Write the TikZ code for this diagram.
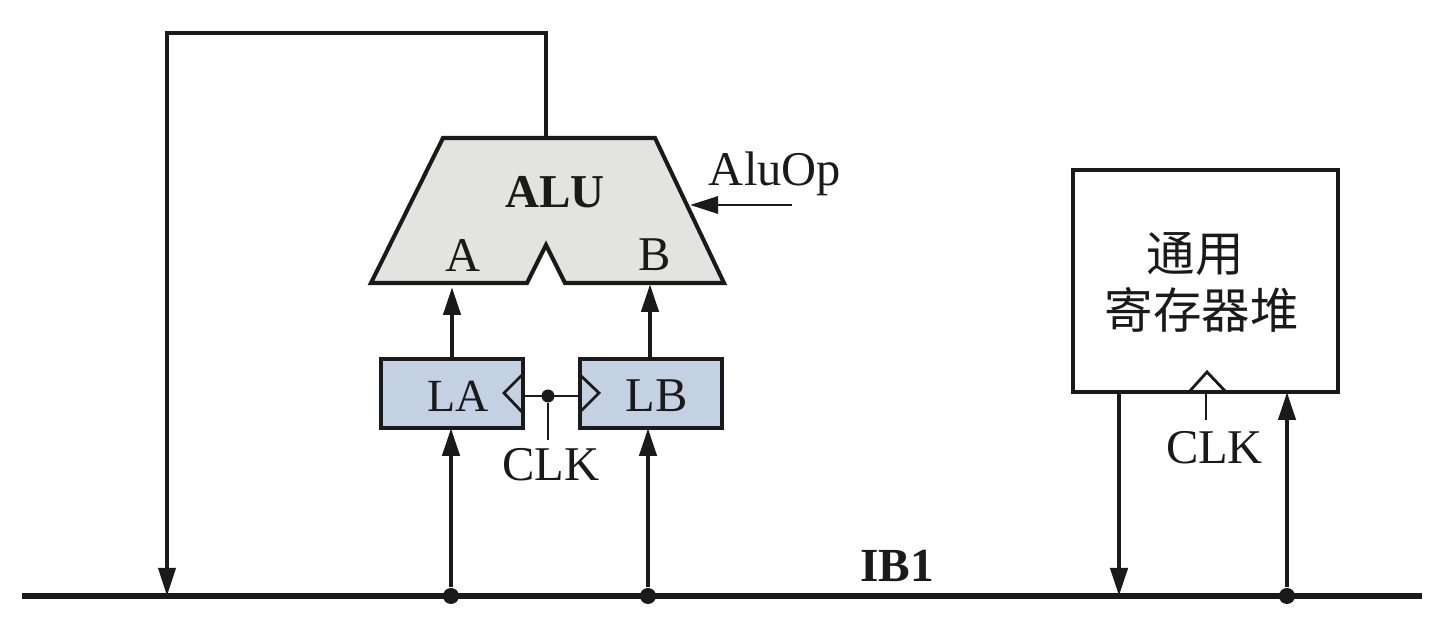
\documentclass[tikz,border=0pt]{standalone}
\usepackage{fontspec}
\setmainfont{Liberation Serif}
\newfontfamily\cjk{Noto Sans CJK SC}
\usepackage{xcolor}
\usetikzlibrary{positioning,calc,arrows.meta}
\definecolor{inkc}{HTML}{1A1A1A}
\definecolor{alugray}{HTML}{E3E3E1}
\definecolor{regblue}{HTML}{C3D1E3}
\tikzset{
    every node/.style={text=inkc, font=\fontsize{13.8}{16}\selectfont},
    wire/.style={draw=inkc, line width=1.25pt},
    thinwire/.style={draw=inkc, line width=0.85pt},
    arrowwire/.style={wire, -{Triangle[length=0.28cm,width=0.17cm]}},
    regbox/.style={draw=inkc, line width=1.15pt, fill=regblue, outer sep=0pt, minimum width=1.42cm, minimum height=0.69cm, inner sep=0pt},
    filebox/.style={draw=inkc, line width=1.15pt, fill=white, outer sep=0pt, minimum width=2.65cm, minimum height=2.22cm, inner sep=0pt},
    junction/.style={circle, fill=inkc, inner sep=0pt, minimum size=0.16cm},
    clkmark/.style={draw=inkc, line width=0.8pt, line join=miter}
}
\begin{document}
\begin{tikzpicture}
    \useasboundingbox (0,0) rectangle (14.42,6.29);
    % ALU outline
    \coordinate (aluout) at (5.46,4.91);
    \coordinate (inA) at (4.52,3.42);
    \coordinate (inB) at (6.50,3.45);
    \coordinate (opin) at (6.90,4.24);
    \coordinate (opend) at (7.92,4.24);
    \draw[draw=inkc, line width=1.15pt, fill=alugray, line join=miter]
        (4.43,4.91) -- (6.55,4.91) -- (7.24,3.46) -- (5.65,3.46) -- (5.46,3.84)
        -- (5.27,3.46) -- (3.71,3.46) -- cycle;
    \node (alulabel) at (5.55,4.37) {\fontsize{13.4}{16}\selectfont\textbf{ALU}};
    \node (alua) at (4.63,3.74) {A};
    \node (alub) at (6.55,3.74) {B};
    \node (aluop) at (7.75,4.55) {AluOp};
    % registers
    \node[regbox] (la) at (4.52,2.355) {};
    \node[regbox] (lb) at (6.51,2.355) {};
    \node (latext) at (4.58,2.33) {\fontsize{13.1}{16}\selectfont LA};
    \node (lbtext) at (6.565,2.33) {\fontsize{13.8}{16}\selectfont LB};
    \draw[clkmark] (5.23,2.55) -- (5.04,2.36) -- (5.23,2.16);
    \draw[clkmark] (5.79,2.55) -- (5.99,2.36) -- (5.79,2.16);
    % clock of LA, LB
    \node[junction, minimum size=0.13cm] (clkdot) at (5.48,2.33) {};
    \coordinate (clkend) at (5.48,1.89);
    \node (clklab) at (5.51,1.64) {CLK};
    \draw[thinwire] (la.east |- clkdot) -- (lb.west |- clkdot);
    \draw[thinwire] (clkdot) -- (clkend);
    % register file
    \node[filebox] (gpr) at (12.055,3.48) {};
    \node (gprtop) at (11.95,3.75) {\cjk 通用};
    \node (gprbot) at (12.02,3.19) {\cjk 寄存器堆};
    \draw[clkmark] (11.89,2.37) -- (12.07,2.57) -- (12.26,2.37);
    \coordinate (gprclk) at (12.06,2.37);
    \coordinate (gprend) at (12.06,2.09);
    \draw[thinwire] (gprclk) -- (gprend);
    \node (clkgpr) at (12.145,1.81) {CLK};
    % bus
    \coordinate (busl) at (0.22,0.33);
    \coordinate (busr) at (14.22,0.33);
    \draw[draw=inkc, line width=1.7pt] (busl) -- (busr);
    \node (buslab) at (8.97,0.63) {\fontsize{13.5}{16}\selectfont\textbf{IB1}};
    \node[junction] (tapa) at (4.51,0.33) {};
    \node[junction] (tapb) at (6.48,0.33) {};
    \node[junction] (tapf) at (12.87,0.33) {};
    \coordinate (dropl) at (1.67,0.33);
    \coordinate (dropr) at (11.19,0.33);
    % connectors
    \draw[draw=inkc, line width=1.05pt, -{Triangle[length=0.28cm,width=0.17cm]}] (aluout) -- (5.46,5.96) -- (1.67,5.96) -- (dropl);
    \draw[arrowwire] (la.north -| inA) -- (inA);
    \draw[arrowwire] (lb.north -| inB) -- (inB);
    \draw[arrowwire] (tapa) -- (tapa |- la.south);
    \draw[arrowwire] (tapb) -- (tapb |- lb.south);
    \draw[thinwire, -{Triangle[length=0.28cm,width=0.17cm]}] (opend) -- (opin);
    \draw[arrowwire] (dropr |- gpr.south) -- (dropr);
    \draw[arrowwire] (tapf) -- (tapf |- gpr.south);
\end{tikzpicture}
\end{document}
